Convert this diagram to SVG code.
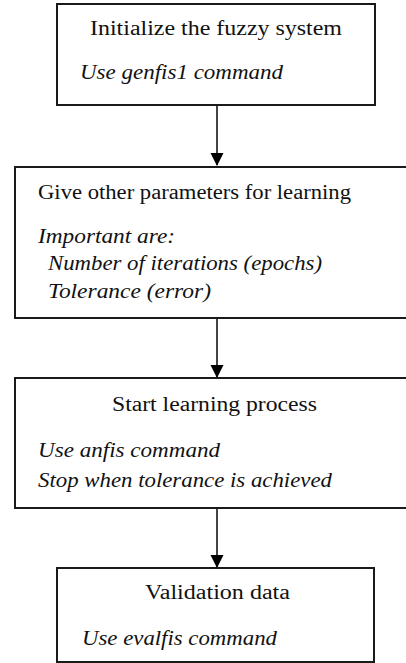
<svg xmlns="http://www.w3.org/2000/svg" width="406" height="663" viewBox="0 0 406 663">
<defs>
<style>
.box{fill:#fff;stroke:#1a1a1a;stroke-width:2}
.t{font-family:'Liberation Serif','DejaVu Serif','Times New Roman',serif;font-size:20px;fill:#111}
.i{font-style:italic}
.c{stroke:#444;stroke-width:2;fill:none}
</style>
<marker id="ah" markerWidth="14" markerHeight="14" refX="12" refY="6.5" orient="auto" markerUnits="userSpaceOnUse">
<path d="M0,0 L13,6.5 L0,13 Z" fill="#000"/>
</marker>
</defs>
<rect width="406" height="663" fill="#fff"/>
<g id="connectors">
<line class="c" x1="217" y1="105" x2="217" y2="165" marker-end="url(#ah)"/>
<line class="c" x1="217" y1="318" x2="217" y2="377" marker-end="url(#ah)"/>
<line class="c" x1="217" y1="508" x2="217" y2="567" marker-end="url(#ah)"/>
</g>
<g id="node1">
<rect class="box" x="57" y="4" width="318" height="101"/>
<text class="t" x="90" y="35" textLength="252" lengthAdjust="spacingAndGlyphs">Initialize the fuzzy system</text>
<text class="t i" x="80" y="79" textLength="203" lengthAdjust="spacingAndGlyphs">Use genfis1 command</text>
</g>
<g id="node2">
<rect class="box" x="15" y="167" width="400" height="151"/>
<text class="t" x="38" y="199" textLength="313" lengthAdjust="spacingAndGlyphs">Give other parameters for learning</text>
<text class="t i" x="38" y="243" textLength="137" lengthAdjust="spacingAndGlyphs">Important are:</text>
<text class="t i" x="48" y="270" textLength="274" lengthAdjust="spacingAndGlyphs">Number of iterations (epochs)</text>
<text class="t i" x="48" y="298" textLength="163" lengthAdjust="spacingAndGlyphs">Tolerance (error)</text>
</g>
<g id="node3">
<rect class="box" x="15" y="378" width="400" height="130"/>
<text class="t" x="112" y="411" textLength="205" lengthAdjust="spacingAndGlyphs">Start learning process</text>
<text class="t i" x="38" y="457" textLength="182" lengthAdjust="spacingAndGlyphs">Use anfis command</text>
<text class="t i" x="38" y="487" textLength="294" lengthAdjust="spacingAndGlyphs">Stop when tolerance is achieved</text>
</g>
<g id="node4">
<rect class="box" x="57" y="568" width="317" height="94"/>
<text class="t" x="145" y="599" textLength="145" lengthAdjust="spacingAndGlyphs">Validation data</text>
<text class="t i" x="82" y="645" textLength="195" lengthAdjust="spacingAndGlyphs">Use evalfis command</text>
</g>
</svg>
